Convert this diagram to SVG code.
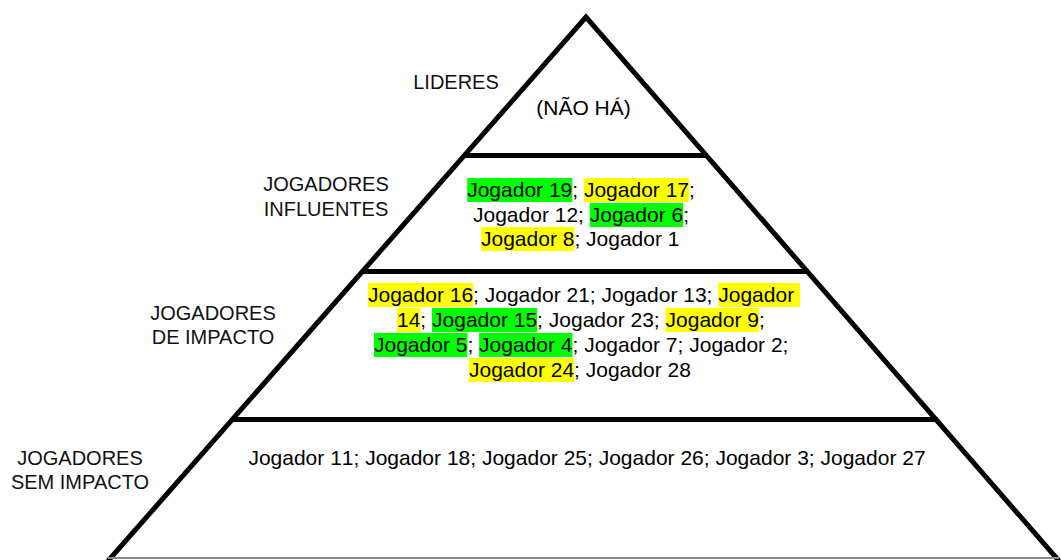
<svg xmlns="http://www.w3.org/2000/svg" width="1061" height="560" viewBox="0 0 1061 560">
<style>
.t{font-family:"Liberation Sans",Arial,sans-serif;font-size:21px;fill:#000;font-kerning:none}
.lab{font-family:"Liberation Sans",Arial,sans-serif;font-size:20px;fill:#111;text-anchor:middle}
.g{fill:#00ff00}
.y{fill:#ffff00}
.edge{fill:none;stroke:#000;stroke-width:5;stroke-linejoin:miter}
.div{stroke:#000;stroke-width:5}
</style>
<rect width="1061" height="560" fill="#fff"/>
<g id="connectors">
<path class="edge" d="M108,561 L586,17 L1059,561"/>
<line x1="108" y1="558" x2="1059" y2="558" stroke="#888" stroke-width="2"/>
<line class="div" x1="463" y1="155.5" x2="708" y2="155.5"/>
<line class="div" x1="361" y1="271.5" x2="809" y2="271.5"/>
<line class="div" x1="231" y1="419.5" x2="938" y2="419.5"/>
</g>
<g id="tier-lideres">
<text class="lab" x="456" y="88.5">LIDERES</text>
<text class="t" x="583.5" y="115" text-anchor="middle">(NÃO HÁ)</text>
</g>
<g id="tier-influentes">
<text class="lab" x="326" y="191">JOGADORES</text>
<text class="lab" x="326" y="216">INFLUENTES</text>
<rect class="g" x="467.2" y="178" width="105.1" height="24"/>
<rect class="y" x="583.9" y="178" width="105.1" height="24"/>
<rect class="g" x="589.7" y="203" width="93.4" height="24"/>
<rect class="y" x="481" y="227" width="93.4" height="24"/>
<text class="t" x="467.2" y="197">Jogador 19; Jogador 17;</text>
<text class="t" x="473" y="222">Jogador 12; Jogador 6;</text>
<text class="t" x="481" y="246">Jogador 8; Jogador 1</text>
</g>
<g id="tier-impacto">
<text class="lab" x="213" y="320">JOGADORES</text>
<text class="lab" x="213" y="344">DE IMPACTO</text>
<rect class="y" x="368" y="283" width="105.1" height="24"/>
<rect class="y" x="718.2" y="283" width="81.7" height="24"/>
<rect class="y" x="397" y="308" width="23.4" height="24"/>
<rect class="g" x="432" y="308" width="105.1" height="24"/>
<rect class="y" x="665.5" y="308" width="93.4" height="24"/>
<rect class="g" x="374" y="333" width="93.4" height="24"/>
<rect class="g" x="479.1" y="333" width="93.4" height="24"/>
<rect class="y" x="469" y="358" width="105.1" height="24"/>
<text class="t" x="368" y="302">Jogador 16; Jogador 21; Jogador 13; Jogador</text>
<text class="t" x="397" y="327">14; Jogador 15; Jogador 23; Jogador 9;</text>
<text class="t" x="374" y="352">Jogador 5; Jogador 4; Jogador 7; Jogador 2;</text>
<text class="t" x="469" y="377">Jogador 24; Jogador 28</text>
</g>
<g id="tier-sem-impacto">
<text class="lab" x="80" y="465">JOGADORES</text>
<text class="lab" x="80" y="489">SEM IMPACTO</text>
<text class="t" x="587" y="465" text-anchor="middle">Jogador 11; Jogador 18; Jogador 25; Jogador 26; Jogador 3; Jogador 27</text>
</g>
</svg>
